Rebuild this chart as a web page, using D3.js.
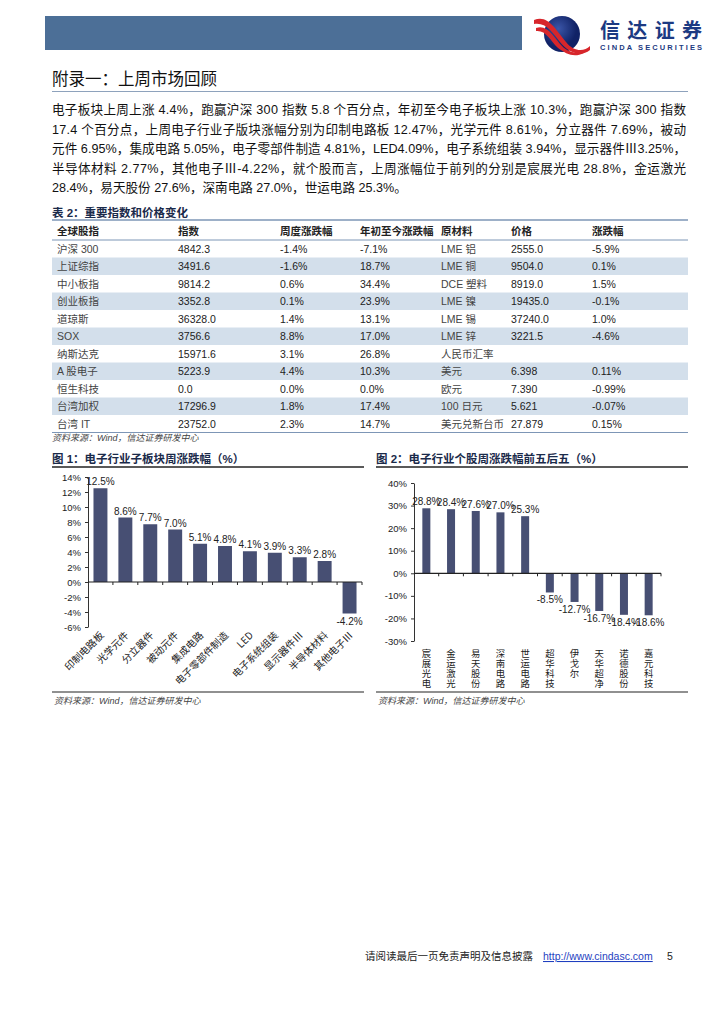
<!DOCTYPE html>
<html><head><meta charset="utf-8">
<script src="https://cdn.jsdelivr.net/npm/d3@7"></script>
<style>body{margin:0;background:#fff} svg{display:block}</style>
</head><body>
<svg id="page" width="724" height="1024"></svg>
<script>
// ---- data ----
const sectorNames = ["印制电路板","光学元件","分立器件","被动元件","集成电路","电子零部件制造","LED","电子系统组装","显示器件Ⅲ","半导体材料","其他电子Ⅲ"];
const sectorChange = [12.5, 8.6, 7.7, 7.0, 5.1, 4.8, 4.1, 3.9, 3.3, 2.8, -4.2];
const sectorTicks = [-6, -4, -2, 0, 2, 4, 6, 8, 10, 12, 14];

const stockNames = ["宸展光电","金运激光","易天股份","深南电路","世运电路","超华科技","伊戈尔","天华超净","诺德股份","嘉元科技"];
const stockChange = [28.8, 28.4, 27.6, 27.0, 25.3, -8.5, -12.7, -16.7, -18.4, -18.6];
const stockTicks = [-30, -20, -10, 0, 10, 20, 30, 40];

const tableHead = ["全球股指","指数","周度涨跌幅","年初至今涨跌幅","原材料","价格","涨跌幅"];
const indexNames = ["沪深 300","上证综指","中小板指","创业板指","道琼斯","SOX","纳斯达克","A 股电子","恒生科技","台湾加权","台湾 IT"];
const indexLevel = ["4842.3","3491.6","9814.2","3352.8","36328.0","3756.6","15971.6","5223.9","0.0","17296.9","23752.0"];
const indexWeek = ["-1.4%","-1.6%","0.6%","0.1%","1.4%","8.8%","3.1%","4.4%","0.0%","1.8%","2.3%"];
const indexYtd = ["-7.1%","18.7%","34.4%","23.9%","13.1%","17.0%","26.8%","10.3%","0.0%","17.4%","14.7%"];
const materialNames = ["LME 铝","LME 铜","DCE 塑料","LME 镍","LME 锡","LME 锌","人民币汇率","美元","欧元","100 日元","美元兑新台币"];
const materialPrice = ["2555.0","9504.0","8919.0","19435.0","37240.0","3221.5","","6.398","7.390","5.621","27.879"];
const materialChange = ["-5.9%","0.1%","1.5%","-0.1%","1.0%","-4.6%","","0.11%","-0.99%","-0.07%","0.15%"];

const paragraph = [
  "电子板块上周上涨 4.4%，跑赢沪深 300 指数 5.8 个百分点，年初至今电子板块上涨 10.3%，跑赢沪深 300 指数",
  "17.4 个百分点，上周电子行业子版块涨幅分别为印制电路板 12.47%，光学元件 8.61%，分立器件 7.69%，被动",
  "元件 6.95%，集成电路 5.05%，电子零部件制造 4.81%，LED4.09%，电子系统组装 3.94%，显示器件Ⅲ3.25%，",
  "半导体材料 2.77%，其他电子Ⅲ-4.22%，就个股而言，上周涨幅位于前列的分别是宸展光电 28.8%，金运激光",
  "28.4%，易天股份 27.6%，深南电路 27.0%，世运电路 25.3%。"
];

const FONT = "'Liberation Sans', Arial, 'Noto Sans CJK SC', sans-serif";
const BAR = "#474f73";
const svg = d3.select("#page").style("font-family", FONT);

// ---- page header ----
svg.append("rect").attr("x", 45).attr("y", 16).attr("width", 477).attr("height", 34).attr("fill", "#4c6f97");

const logo = svg.append("g");
const grad = svg.append("defs").append("radialGradient").attr("id", "lg").attr("cx", "40%").attr("cy", "35%");
grad.append("stop").attr("offset", "0%").attr("stop-color", "#3b56a8");
grad.append("stop").attr("offset", "100%").attr("stop-color", "#102266");
logo.append("circle").attr("cx", 562).attr("cy", 34).attr("r", 18).attr("fill", "url(#lg)");
logo.append("path").attr("d", "M534,20 C548,14 556,30 566,42 C574,52 584,52 590,46 L590,50 C580,58 568,52 560,42 C552,32 546,22 534,24 Z").attr("fill", "#d7262b");
logo.append("path").attr("d", "M536,28 C548,24 554,38 562,46 C570,54 580,54 586,50 L584,53 C574,58 566,54 558,48 C550,40 546,30 536,31 Z").attr("fill", "#d7262b");
svg.append("text").attr("x", 600).attr("y", 38).attr("font-size", 20).attr("font-weight", "bold")
  .attr("fill", "#1c3a82").attr("font-family", "'Noto Sans CJK SC'").attr("textLength", 102).text("信达证券");
svg.append("text").attr("x", 600).attr("y", 50).attr("font-size", 7.5).attr("font-weight", "bold")
  .attr("fill", "#1c3a82").attr("textLength", 102).text("CINDA SECURITIES");

svg.append("text").attr("x", 52).attr("y", 85).attr("font-size", 16.5).attr("fill", "#111")
  .attr("font-family", "'Noto Sans CJK SC'").text("附录一：上周市场回顾");
svg.append("line").attr("x1", 52).attr("x2", 688).attr("y1", 91.5).attr("y2", 91.5)
  .attr("stroke", "#8ea2bc").attr("stroke-width", 1.2);

// ---- paragraph ----
svg.append("g").selectAll("text").data(paragraph).join("text")
  .attr("x", 52).attr("y", (d, i) => 114 + i * 19.5)
  .attr("font-size", 12.6).attr("fill", "#111")
  .each(function (d, i) {
    if (i < paragraph.length - 1) d3.select(this).attr("textLength", 634).attr("lengthAdjust", "spacing");
  })
  .text(d => d);

// ---- table ----
const colX = [57, 178, 280, 360, 441, 511, 592];
const tTop = 220, headH = 20, rowH = 17.5;
svg.append("text").attr("x", 52).attr("y", 217).attr("font-size", 11.5).attr("font-weight", "bold")
  .attr("fill", "#1a2a4a").text("表 2：重要指数和价格变化");
const rows = indexNames.map((n, i) => [n, indexLevel[i], indexWeek[i], indexYtd[i], materialNames[i], materialPrice[i], materialChange[i]]);
const tbl = svg.append("g");
tbl.selectAll("rect.shade").data(rows).join("rect").attr("class", "shade")
  .attr("x", 52).attr("width", 636)
  .attr("y", (d, i) => tTop + headH + i * rowH).attr("height", rowH)
  .attr("fill", (d, i) => i % 2 ? "#d3dfeb" : "none");
tbl.append("line").attr("x1", 52).attr("x2", 688).attr("y1", tTop).attr("y2", tTop).attr("stroke", "#7d96b6").attr("stroke-width", 1.5);
tbl.append("line").attr("x1", 52).attr("x2", 688).attr("y1", tTop + headH).attr("y2", tTop + headH).attr("stroke", "#7d96b6").attr("stroke-width", 1);
tbl.append("line").attr("x1", 52).attr("x2", 688).attr("y1", tTop + headH + rows.length * rowH).attr("y2", tTop + headH + rows.length * rowH).attr("stroke", "#7d96b6").attr("stroke-width", 1.2);
tbl.selectAll("text.h").data(tableHead).join("text").attr("class", "h")
  .attr("x", (d, i) => colX[i]).attr("y", tTop + 14.5).attr("font-size", 10.5).attr("font-weight", "bold").attr("fill", "#222").text(d => d);
rows.forEach((r, i) => {
  tbl.selectAll(null).data(r).join("text")
    .attr("x", (d, j) => colX[j]).attr("y", tTop + headH + i * rowH + 12.8)
    .attr("font-size", 10.5).attr("fill", (d, j) => (j === 0 || j === 4) ? "#444" : "#222").text(d => d);
});
svg.append("text").attr("x", 52).attr("y", 441).attr("font-size", 9).attr("font-style", "italic").attr("fill", "#444")
  .text("资料来源：Wind，信达证券研发中心");

// ---- chart helpers ----
function chartFrame(x0, x1, title) {
  svg.append("text").attr("x", x0).attr("y", 463).attr("font-size", 11.5).attr("font-weight", "bold").attr("fill", "#1a2a4a").text(title);
  svg.append("line").attr("x1", x0).attr("x2", x1).attr("y1", 467).attr("y2", 467).attr("stroke", "#222").attr("stroke-width", 1.5);
  svg.append("line").attr("x1", x0).attr("x2", x1).attr("y1", 692).attr("y2", 692).attr("stroke", "#222").attr("stroke-width", 1.2);
  svg.append("text").attr("x", x0 + 2).attr("y", 704).attr("font-size", 9).attr("font-style", "italic").attr("fill", "#444")
    .text("资料来源：Wind，信达证券研发中心");
}

function barChart(g, names, values, ticks, xr, yr, pad, labelStyle) {
  const x = d3.scaleBand().domain(names).range(xr).paddingInner(pad).paddingOuter(pad / 2);
  const y = d3.scaleLinear().domain(d3.extent(ticks)).range(yr);
  const yAxis = g.append("g").attr("transform", `translate(${xr[0]},0)`)
    .call(d3.axisLeft(y).tickValues(ticks).tickSize(3).tickSizeOuter(0).tickFormat(d => d + "%"));
  yAxis.select(".domain").attr("stroke", "#333");
  yAxis.selectAll(".tick line").attr("stroke", "#333");
  yAxis.selectAll(".tick text").attr("font-size", 9.5).attr("fill", "#222").attr("font-family", FONT).attr("x", -7);
  g.selectAll("rect.bar").data(values).join("rect").attr("class", "bar")
    .attr("x", (d, i) => x(names[i])).attr("width", x.bandwidth())
    .attr("y", d => y(Math.max(0, d))).attr("height", d => Math.abs(y(d) - y(0)))
    .attr("fill", BAR);
  // category axis on zero line
  g.append("line").attr("x1", xr[0]).attr("x2", xr[1]).attr("y1", y(0)).attr("y2", y(0)).attr("stroke", "#222").attr("stroke-width", 1.2);
  g.selectAll("line.xt").data(names).join("line").attr("class", "xt")
    .attr("x1", (d, i) => xr[0] + (i + 1) * x.step()).attr("x2", (d, i) => xr[0] + (i + 1) * x.step())
    .attr("y1", y(0)).attr("y2", y(0) + 3).attr("stroke", "#222");
  g.selectAll("text.val").data(values).join("text").attr("class", "val")
    .attr("x", (d, i) => x(names[i]) + x.bandwidth() / 2)
    .attr("y", d => d >= 0 ? y(d) - 3 : y(d) + 11)
    .attr("text-anchor", "middle").attr("font-size", 10).attr("fill", "#222")
    .text(d => d.toFixed(1) + "%");
  labelStyle(g, x, y);
}

// ---- chart 1 ----
chartFrame(52, 364, "图 1：电子行业子板块周涨跌幅（%）");
barChart(svg.append("g"), sectorNames, sectorChange, sectorTicks, [88, 362], [627, 477], 0.44, (g, x, y) => {
  g.selectAll("text.cat").data(sectorNames).join("text").attr("class", "cat")
    .attr("transform", d => `translate(${x(d) + x.bandwidth() / 2 + 4},${y(-6) + 9}) rotate(-45)`)
    .attr("text-anchor", "end").attr("font-size", 10).attr("fill", "#222")
    .attr("font-family", "'Noto Sans CJK SC', sans-serif").text(d => d);
});

// ---- chart 2 ----
chartFrame(376, 688, "图 2：电子行业个股周涨跌幅前五后五（%）");
barChart(svg.append("g"), stockNames, stockChange, stockTicks, [414, 661], [641, 483], 0.676, (g, x) => {
  g.selectAll("text.cat").data(stockNames).join("text").attr("class", "cat")
    .attr("x", d => x(d) + x.bandwidth() / 2).attr("y", 649)
    .style("writing-mode", "vertical-rl").style("letter-spacing", "0.6px")
    .attr("font-size", 9.4).attr("fill", "#222")
    .attr("font-family", "'Noto Sans CJK SC', sans-serif").text(d => d);
});

// ---- footer ----
const foot = svg.append("text").attr("y", 960).attr("font-size", 10.5).attr("fill", "#222");
foot.append("tspan").attr("x", 365).attr("font-family", "'Noto Sans CJK SC'").text("请阅读最后一页免责声明及信息披露");
foot.append("tspan").attr("x", 543).attr("fill", "#1f3fbf").attr("text-decoration", "underline").text("http://www.cindasc.com");
foot.append("tspan").attr("x", 667).text("5");
</script>
</body></html>
